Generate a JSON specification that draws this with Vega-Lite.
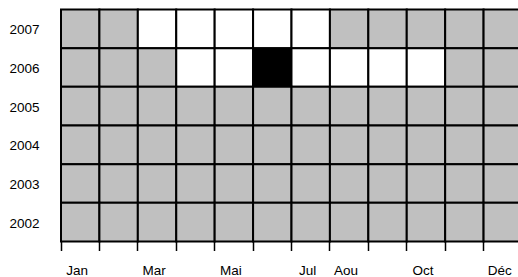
{
  "$schema": "https://vega.github.io/schema/vega-lite/v6.json",
  "autosize": {"type": "none"},
  "padding": {"left": 61, "top": 9.5, "right": 0, "bottom": 35},
  "width": 461,
  "height": 232,
  "background": "white",
  "config": {"view": {"stroke": null}, "font": "Liberation Sans"},
  "data": {
    "values": [
      {"annee": "2007", "mois": "Jan", "etat": "gris"},
      {"annee": "2007", "mois": "Fév", "etat": "gris"},
      {"annee": "2007", "mois": "Mar", "etat": "blanc"},
      {"annee": "2007", "mois": "Avr", "etat": "blanc"},
      {"annee": "2007", "mois": "Mai", "etat": "blanc"},
      {"annee": "2007", "mois": "Juin", "etat": "blanc"},
      {"annee": "2007", "mois": "Jul", "etat": "blanc"},
      {"annee": "2007", "mois": "Aou", "etat": "gris"},
      {"annee": "2007", "mois": "Sep", "etat": "gris"},
      {"annee": "2007", "mois": "Oct", "etat": "gris"},
      {"annee": "2007", "mois": "Nov", "etat": "gris"},
      {"annee": "2007", "mois": "Déc", "etat": "gris"},
      {"annee": "2006", "mois": "Jan", "etat": "gris"},
      {"annee": "2006", "mois": "Fév", "etat": "gris"},
      {"annee": "2006", "mois": "Mar", "etat": "gris"},
      {"annee": "2006", "mois": "Avr", "etat": "blanc"},
      {"annee": "2006", "mois": "Mai", "etat": "blanc"},
      {"annee": "2006", "mois": "Juin", "etat": "noir"},
      {"annee": "2006", "mois": "Jul", "etat": "blanc"},
      {"annee": "2006", "mois": "Aou", "etat": "blanc"},
      {"annee": "2006", "mois": "Sep", "etat": "blanc"},
      {"annee": "2006", "mois": "Oct", "etat": "blanc"},
      {"annee": "2006", "mois": "Nov", "etat": "gris"},
      {"annee": "2006", "mois": "Déc", "etat": "gris"},
      {"annee": "2005", "mois": "Jan", "etat": "gris"},
      {"annee": "2005", "mois": "Fév", "etat": "gris"},
      {"annee": "2005", "mois": "Mar", "etat": "gris"},
      {"annee": "2005", "mois": "Avr", "etat": "gris"},
      {"annee": "2005", "mois": "Mai", "etat": "gris"},
      {"annee": "2005", "mois": "Juin", "etat": "gris"},
      {"annee": "2005", "mois": "Jul", "etat": "gris"},
      {"annee": "2005", "mois": "Aou", "etat": "gris"},
      {"annee": "2005", "mois": "Sep", "etat": "gris"},
      {"annee": "2005", "mois": "Oct", "etat": "gris"},
      {"annee": "2005", "mois": "Nov", "etat": "gris"},
      {"annee": "2005", "mois": "Déc", "etat": "gris"},
      {"annee": "2004", "mois": "Jan", "etat": "gris"},
      {"annee": "2004", "mois": "Fév", "etat": "gris"},
      {"annee": "2004", "mois": "Mar", "etat": "gris"},
      {"annee": "2004", "mois": "Avr", "etat": "gris"},
      {"annee": "2004", "mois": "Mai", "etat": "gris"},
      {"annee": "2004", "mois": "Juin", "etat": "gris"},
      {"annee": "2004", "mois": "Jul", "etat": "gris"},
      {"annee": "2004", "mois": "Aou", "etat": "gris"},
      {"annee": "2004", "mois": "Sep", "etat": "gris"},
      {"annee": "2004", "mois": "Oct", "etat": "gris"},
      {"annee": "2004", "mois": "Nov", "etat": "gris"},
      {"annee": "2004", "mois": "Déc", "etat": "gris"},
      {"annee": "2003", "mois": "Jan", "etat": "gris"},
      {"annee": "2003", "mois": "Fév", "etat": "gris"},
      {"annee": "2003", "mois": "Mar", "etat": "gris"},
      {"annee": "2003", "mois": "Avr", "etat": "gris"},
      {"annee": "2003", "mois": "Mai", "etat": "gris"},
      {"annee": "2003", "mois": "Juin", "etat": "gris"},
      {"annee": "2003", "mois": "Jul", "etat": "gris"},
      {"annee": "2003", "mois": "Aou", "etat": "gris"},
      {"annee": "2003", "mois": "Sep", "etat": "gris"},
      {"annee": "2003", "mois": "Oct", "etat": "gris"},
      {"annee": "2003", "mois": "Nov", "etat": "gris"},
      {"annee": "2003", "mois": "Déc", "etat": "gris"},
      {"annee": "2002", "mois": "Jan", "etat": "gris"},
      {"annee": "2002", "mois": "Fév", "etat": "gris"},
      {"annee": "2002", "mois": "Mar", "etat": "gris"},
      {"annee": "2002", "mois": "Avr", "etat": "gris"},
      {"annee": "2002", "mois": "Mai", "etat": "gris"},
      {"annee": "2002", "mois": "Juin", "etat": "gris"},
      {"annee": "2002", "mois": "Jul", "etat": "gris"},
      {"annee": "2002", "mois": "Aou", "etat": "gris"},
      {"annee": "2002", "mois": "Sep", "etat": "gris"},
      {"annee": "2002", "mois": "Oct", "etat": "gris"},
      {"annee": "2002", "mois": "Nov", "etat": "gris"},
      {"annee": "2002", "mois": "Déc", "etat": "gris"}
    ]
  },
  "mark": {"type": "rect", "stroke": "black", "strokeWidth": 2},
  "encoding": {
    "x": {
      "field": "mois",
      "type": "ordinal",
      "sort": ["Jan", "Fév", "Mar", "Avr", "Mai", "Juin", "Jul", "Aou", "Sep", "Oct", "Nov", "Déc"],
      "scale": {"paddingInner": 0, "paddingOuter": 0},
      "axis": {
        "title": null,
        "domain": false,
        "bandPosition": 0,
        "tickSize": 9,
        "tickWidth": 1.5,
        "tickColor": "black",
        "labelAngle": 0,
        "labelOffset": -3,
        "labelPadding": 13,
        "labelFontSize": 13.5,
        "labelColor": "black",
        "labelFont": "Liberation Sans",
        "labelExpr": "indexof(['Jan','Mar','Mai','Jul','Aou','Oct','Déc'], datum.value) >= 0 ? datum.value : ''"
      }
    },
    "y": {
      "field": "annee",
      "type": "ordinal",
      "sort": "descending",
      "scale": {"paddingInner": 0, "paddingOuter": 0},
      "axis": {
        "title": null,
        "domain": false,
        "ticks": false,
        "labelPadding": 22,
        "labelOffset": 1.5,
        "labelFontSize": 13.5,
        "labelColor": "black",
        "labelFont": "Liberation Sans"
      }
    },
    "color": {
      "field": "etat",
      "type": "nominal",
      "scale": {"domain": ["gris", "blanc", "noir"], "range": ["#c0c0c0", "#ffffff", "#000000"]},
      "legend": null
    }
  }
}
